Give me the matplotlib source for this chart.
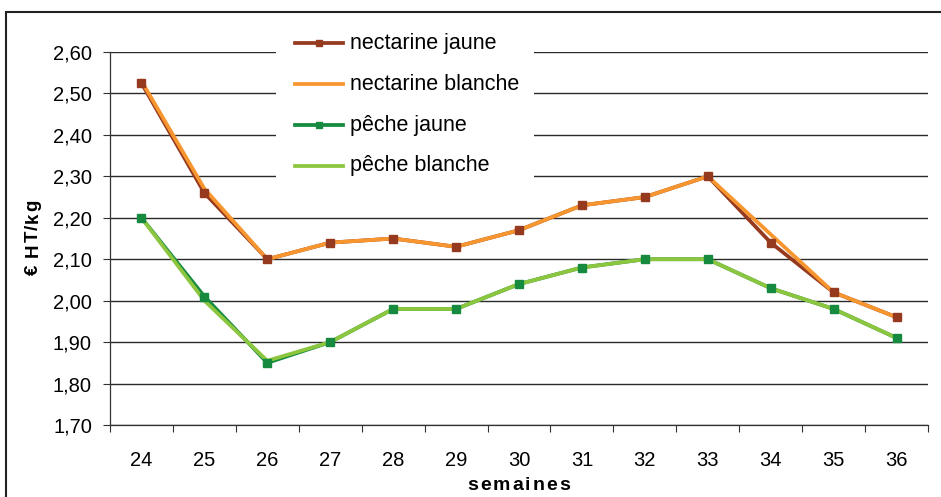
import matplotlib
matplotlib.use("Agg")
import matplotlib.pyplot as plt
from matplotlib.lines import Line2D
from matplotlib.patches import Rectangle
from matplotlib.ticker import FixedLocator, FuncFormatter
from matplotlib.font_manager import FontProperties, findfont, get_font

plt.rcParams['font.family'] = ['Liberation Sans', 'DejaVu Sans']

semaines = [24, 25, 26, 27, 28, 29, 30, 31, 32, 33, 34, 35, 36]
nectarine_jaune = [2.525, 2.26, 2.10, 2.14, 2.15, 2.13, 2.17, 2.23, 2.25, 2.30, 2.14, 2.02, 1.96]
nectarine_blanche = [2.53, 2.27, 2.10, 2.14, 2.15, 2.13, 2.17, 2.23, 2.25, 2.30, 2.16, 2.02, 1.96]
peche_jaune = [2.20, 2.01, 1.85, 1.90, 1.98, 1.98, 2.04, 2.08, 2.10, 2.10, 2.03, 1.98, 1.91]
peche_blanche = [2.20, 2.00, 1.855, 1.90, 1.98, 1.98, 2.04, 2.08, 2.10, 2.10, 2.03, 1.98, 1.91]
y_ticks = [1.70, 1.80, 1.90, 2.00, 2.10, 2.20, 2.30, 2.40, 2.50, 2.60]
series_labels = ['nectarine jaune', 'nectarine blanche', 'pêche jaune', 'pêche blanche']
x_title = 'semaines'
y_title = '€ HT/kg'

c_nj = '#963A1F'
c_nb = '#F7962F'
c_pj = '#168A3F'
c_pb = '#8CC63F'
colors = [c_nj, c_nb, c_pj, c_pb]
with_marker = [True, False, True, False]

W, H = 941, 497
DPI = 100
fig = plt.figure(figsize=(W / DPI, H / DPI), dpi=DPI)
ax_l, ax_r, ax_b, ax_t = 110, 928, 425, 52  # pixel edges of the plot area
ax = fig.add_axes([ax_l / W, 1 - ax_b / H, (ax_r - ax_l) / W, (ax_b - ax_t) / H])

x = list(range(len(semaines)))
lw = 2.7
ms = 5.8

# lines
ax.plot(x, nectarine_jaune, color=c_nj, lw=lw, zorder=3)
ax.plot(x, nectarine_blanche, color=c_nb, lw=lw, zorder=4)
ax.plot(x, peche_jaune, color=c_pj, lw=lw, zorder=3)
ax.plot(x, peche_blanche, color=c_pb, lw=lw, zorder=4)
# markers drawn over the lines
ax.plot(x, nectarine_jaune, ls='none', marker='s', ms=ms, color=c_nj, zorder=5)
ax.plot(x, peche_jaune, ls='none', marker='s', ms=ms, color=c_pj, zorder=5)

ax.set_xlim(-0.5, len(semaines) - 0.5)
ax.set_ylim(1.70, 2.60)
ax.set_yticks(y_ticks)
ax.yaxis.set_major_formatter(FuncFormatter(lambda v, p: f"{v:.2f}".replace('.', ',')))
ax.set_xticks(x)
ax.set_xticklabels([str(s) for s in semaines])
ax.xaxis.set_minor_locator(FixedLocator([i - 0.5 for i in range(len(semaines) + 1)]))
ax.tick_params(axis='x', which='major', length=0, pad=19, labelsize=14.5)
ax.tick_params(axis='x', which='minor', length=5, width=0.8, direction='out', color='#333333')
ax.tick_params(axis='y', which='major', length=5, width=0.8, direction='out', color='#333333',
               labelsize=14.5, pad=8)

ax.grid(axis='y', color='#2a2a2a', lw=1.0, zorder=1)
ax.set_axisbelow(True)
for s in ['top', 'right']:
    ax.spines[s].set_visible(False)
for s in ['left', 'bottom']:
    ax.spines[s].set_color('#333333')
    ax.spines[s].set_linewidth(0.9)


def advances(text, size, weight):
    """Advance width of each character, in pixels."""
    prop = FontProperties(family='Liberation Sans', size=size, weight=weight)
    font = get_font(findfont(prop))
    font.set_size(size, DPI)
    return [font.load_char(ord(c)).linearHoriAdvance / 65536 for c in text]


def spaced_text(text, cx, cy_base, size, extra, vertical=False):
    """Letter-spaced bold title, centred on cx (horizontal) or cy (vertical)."""
    adv = advances(text, size, 'bold')
    total = sum(adv) + extra * (len(text) - 1)
    pos = -total / 2
    for ch, a in zip(text, adv):
        if vertical:
            fig.text(cy_base / W, 1 - (cx - pos) / H, ch, fontsize=size, fontweight='bold',
                     rotation=90, rotation_mode='anchor', ha='left', va='baseline')
        else:
            fig.text((cx + pos) / W, 1 - cy_base / H, ch, fontsize=size, fontweight='bold',
                     ha='left', va='baseline')
        pos += a + extra


# axis titles
spaced_text(x_title, 518.5, 490, 14, 2.0)
spaced_text(y_title, 237.5, 37.5, 13.5, 1.2, vertical=True)


def axx(px):
    return (px - ax_l) / (ax_r - ax_l)


def axy(py):
    return (ax_b - py) / (ax_b - ax_t)


# legend block with white background over the gridlines
ax.add_patch(Rectangle((axx(276), axy(183)), axx(534) - axx(276), axy(24) - axy(183),
                       transform=ax.transAxes, facecolor='white', edgecolor='none',
                       zorder=6, clip_on=False))
rows_py = [43, 84, 125, 166]
for lab, col, mk, py in zip(series_labels, colors, with_marker, rows_py):
    ax.add_line(Line2D([axx(295), axx(343)], [axy(py), axy(py)], transform=ax.transAxes,
                       color=col, lw=lw, zorder=7, clip_on=False))
    if mk:
        ax.add_line(Line2D([axx(319)], [axy(py)], transform=ax.transAxes, color=col,
                           marker='s', ms=4.8, ls='none', zorder=8, clip_on=False))
    ax.text(axx(350), axy(py), lab, transform=ax.transAxes, fontsize=15.5,
            va='center', ha='left', zorder=8)

# chart area border
fig.patches.append(Rectangle((6 / W, -0.05), 1.0, 1 - 12 / H + 0.05, transform=fig.transFigure,
                             fill=False, edgecolor='#222222', lw=1.5, zorder=0))

fig.savefig('out.png', dpi=DPI)
